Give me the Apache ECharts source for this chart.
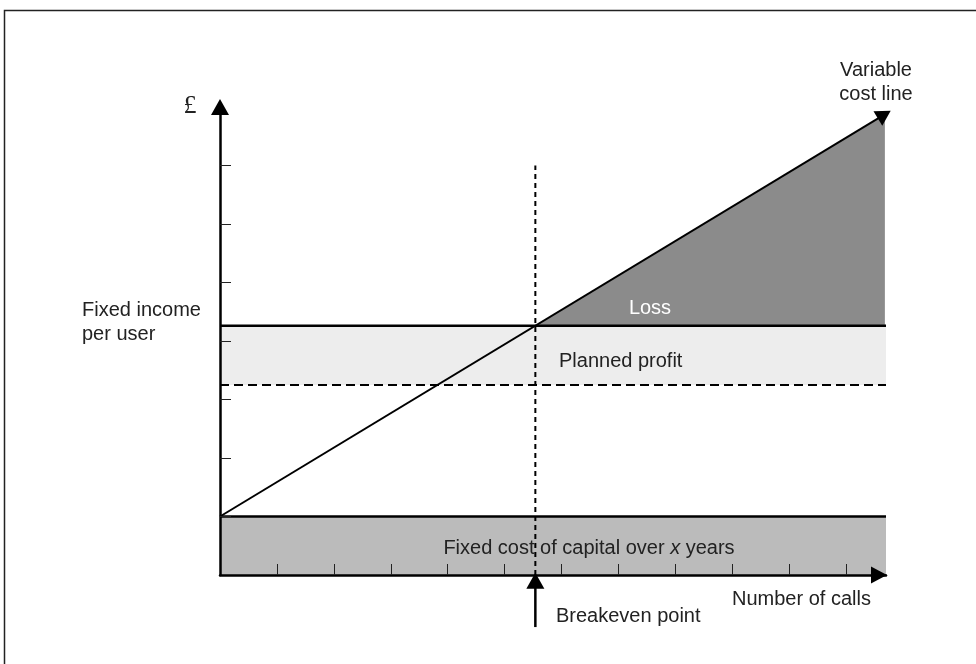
<!DOCTYPE html>
<html>
<head>
<meta charset="utf-8">
<script src="https://cdn.jsdelivr.net/npm/echarts@6/dist/echarts.min.js"></script>
<style>
  html, body { margin: 0; padding: 0; background: #fff; }
  #chart { width: 976px; height: 664px; }
</style>
</head>
<body>
<div id="chart"></div>
<script>
// Breakeven chart: fixed cost band, fixed income, planned profit and the variable cost line
const xTicks = [1, 2, 3, 4, 5, 6, 7, 8, 9, 10, 11];
const yTicks = [1, 2, 3, 4, 5, 6, 7];
const xMax = 11.7;
const yMax = 8;

const fixedCostLevel = 1;        // fixed cost of capital
const fixedIncomeLevel = 4.26;   // fixed income per user
const plannedProfitLevel = 3.25; // lower edge of the planned profit band
const breakevenCalls = 5.54;     // number of calls at breakeven

const variableCostLine = [[0, 1], [11.67, 7.87]];
const lossArea = [[5.54, 4.26], [11.68, 4.26], [11.68, 7.873]];
const breakevenGuide = [[5.54, 0], [5.54, 7]];
const breakevenArrow = [[5.54, -0.89], [5.54, -0.1]];

const fixedCostBand = [0, 0, xMax, fixedCostLevel];
const plannedProfitBand = [0, plannedProfitLevel, xMax, fixedIncomeLevel];

const FONT = '"Liberation Sans", Arial, Helvetica, sans-serif';
const INK = '#222';

function bandItem(params, api) {
  const p0 = api.coord([api.value(0), api.value(1)]);
  const p1 = api.coord([api.value(2), api.value(3)]);
  return {
    type: 'rect',
    shape: { x: p0[0], y: p1[1], width: p1[0] - p0[0], height: p0[1] - p1[1] },
    style: { fill: api.visual('color') }
  };
}

function polygonItem(params, api) {
  const pts = [];
  for (let i = 0; i < 6; i += 2) pts.push(api.coord([api.value(i), api.value(i + 1)]));
  return { type: 'polygon', shape: { points: pts }, style: { fill: api.visual('color') } };
}

// a straight stroke ending in a triangular head centred on the end point
function arrowItem(headW, headL, lineW) {
  return function (params, api) {
    const a = api.coord([api.value(0), api.value(1)]);
    const b = api.coord([api.value(2), api.value(3)]);
    const dx = b[0] - a[0], dy = b[1] - a[1];
    const len = Math.sqrt(dx * dx + dy * dy);
    const ux = dx / len, uy = dy / len;
    const nx = -uy, ny = ux;
    const tip = [b[0] + ux * headL / 2, b[1] + uy * headL / 2];
    const base = [b[0] - ux * headL / 2, b[1] - uy * headL / 2];
    return {
      type: 'group',
      children: [
        { type: 'line', shape: { x1: a[0], y1: a[1], x2: b[0], y2: b[1] },
          style: { stroke: '#000', lineWidth: lineW } },
        { type: 'polygon', shape: { points: [
            tip,
            [base[0] + nx * headW / 2, base[1] + ny * headW / 2],
            [base[0] - nx * headW / 2, base[1] - ny * headW / 2]
          ] }, style: { fill: '#000' } }
      ]
    };
  };
}

function hLine(level, style) {
  return {
    type: 'line', data: [[0, level], [xMax, level]], symbol: 'none', silent: true, z: 3,
    lineStyle: Object.assign({ color: '#000', width: 2.5 }, style)
  };
}

const chart = echarts.init(document.getElementById('chart'), null, { renderer: 'canvas' });

chart.setOption({
  backgroundColor: '#fff',
  animation: false,
  grid: { left: 220, right: 90, top: 107, bottom: 89 },
  xAxis: {
    type: 'value', min: 0, max: xMax, z: 10,
    axisLine: {
      show: true, onZero: false,
      lineStyle: { color: '#000', width: 2.5 },
      symbol: ['none', 'triangle'], symbolSize: [17, 16], symbolOffset: [0, -7]
    },
    axisTick: { show: true, inside: true, length: 11, customValues: xTicks,
      lineStyle: { color: INK, width: 1 } },
    axisLabel: { show: false },
    splitLine: { show: false }
  },
  yAxis: {
    type: 'value', min: 0, max: yMax, z: 10,
    axisLine: {
      show: true, onZero: false,
      lineStyle: { color: '#000', width: 2.5 },
      symbol: ['none', 'triangle'], symbolSize: [18, 16]
    },
    axisTick: { show: true, inside: true, length: 11, customValues: yTicks,
      lineStyle: { color: INK, width: 1 } },
    axisLabel: { show: false },
    splitLine: { show: false }
  },
  series: [
    { type: 'custom', renderItem: bandItem, data: [fixedCostBand],
      itemStyle: { color: '#bbbbbb' }, silent: true, z: 1 },
    { type: 'custom', renderItem: bandItem, data: [plannedProfitBand],
      itemStyle: { color: '#ededed' }, silent: true, z: 1 },
    { type: 'custom', renderItem: polygonItem, data: [lossArea.flat()],
      itemStyle: { color: '#8b8b8b' }, silent: true, z: 1 },
    hLine(fixedCostLevel, {}),
    hLine(fixedIncomeLevel, {}),
    hLine(plannedProfitLevel, { width: 2, type: [9, 5] }),
    { type: 'line', data: breakevenGuide, symbol: 'none', silent: true, z: 3,
      lineStyle: { color: '#000', width: 2, type: [5, 4] } },
    { type: 'custom', renderItem: arrowItem(17, 15, 2), data: [variableCostLine.flat()],
      silent: true, z: 4 },
    { type: 'custom', renderItem: arrowItem(18, 16, 2.5), data: [breakevenArrow.flat()],
      silent: true, z: 4 }
  ],
  graphic: [
    { type: 'rect', silent: true, z: 100,
      shape: { x: 4.5, y: 10.5, width: 1200, height: 1000 },
      style: { fill: 'none', stroke: '#222', lineWidth: 1.5 } },
    { type: 'text', silent: true, z: 100,
      style: { text: '£', x: 190, y: 106, fill: INK, fontSize: 26,
        fontFamily: '"Liberation Serif", "DejaVu Serif", serif',
        textAlign: 'center', textVerticalAlign: 'middle' } },
    { type: 'text', silent: true, z: 100,
      style: { text: 'Fixed income', x: 82, y: 310, fill: INK, fontSize: 20, fontFamily: FONT,
        textAlign: 'left', textVerticalAlign: 'middle' } },
    { type: 'text', silent: true, z: 100,
      style: { text: 'per user', x: 82, y: 334, fill: INK, fontSize: 20, fontFamily: FONT,
        textAlign: 'left', textVerticalAlign: 'middle' } },
    { type: 'text', silent: true, z: 100,
      style: { text: 'Loss', x: 650, y: 308, fill: '#fff', fontSize: 20, fontFamily: FONT,
        textAlign: 'center', textVerticalAlign: 'middle' } },
    { type: 'text', silent: true, z: 100,
      style: { text: 'Planned profit', x: 559, y: 361, fill: INK, fontSize: 20, fontFamily: FONT,
        textAlign: 'left', textVerticalAlign: 'middle' } },
    { type: 'text', silent: true, z: 100,
      style: { text: 'Fixed cost of capital over {i|x} years', x: 589, y: 548, fill: INK,
        fontSize: 20, fontFamily: FONT, textAlign: 'center', textVerticalAlign: 'middle',
        rich: { i: { fontStyle: 'italic', fontSize: 20, fontFamily: FONT, fill: INK } } } },
    { type: 'text', silent: true, z: 100,
      style: { text: 'Breakeven point', x: 556, y: 616, fill: INK, fontSize: 20, fontFamily: FONT,
        textAlign: 'left', textVerticalAlign: 'middle' } },
    { type: 'text', silent: true, z: 100,
      style: { text: 'Number of calls', x: 732, y: 599, fill: INK, fontSize: 20, fontFamily: FONT,
        textAlign: 'left', textVerticalAlign: 'middle' } },
    { type: 'text', silent: true, z: 100,
      style: { text: 'Variable', x: 876, y: 70, fill: INK, fontSize: 20, fontFamily: FONT,
        textAlign: 'center', textVerticalAlign: 'middle' } },
    { type: 'text', silent: true, z: 100,
      style: { text: 'cost line', x: 876, y: 94, fill: INK, fontSize: 20, fontFamily: FONT,
        textAlign: 'center', textVerticalAlign: 'middle' } }
  ]
});
</script>
</body>
</html>
